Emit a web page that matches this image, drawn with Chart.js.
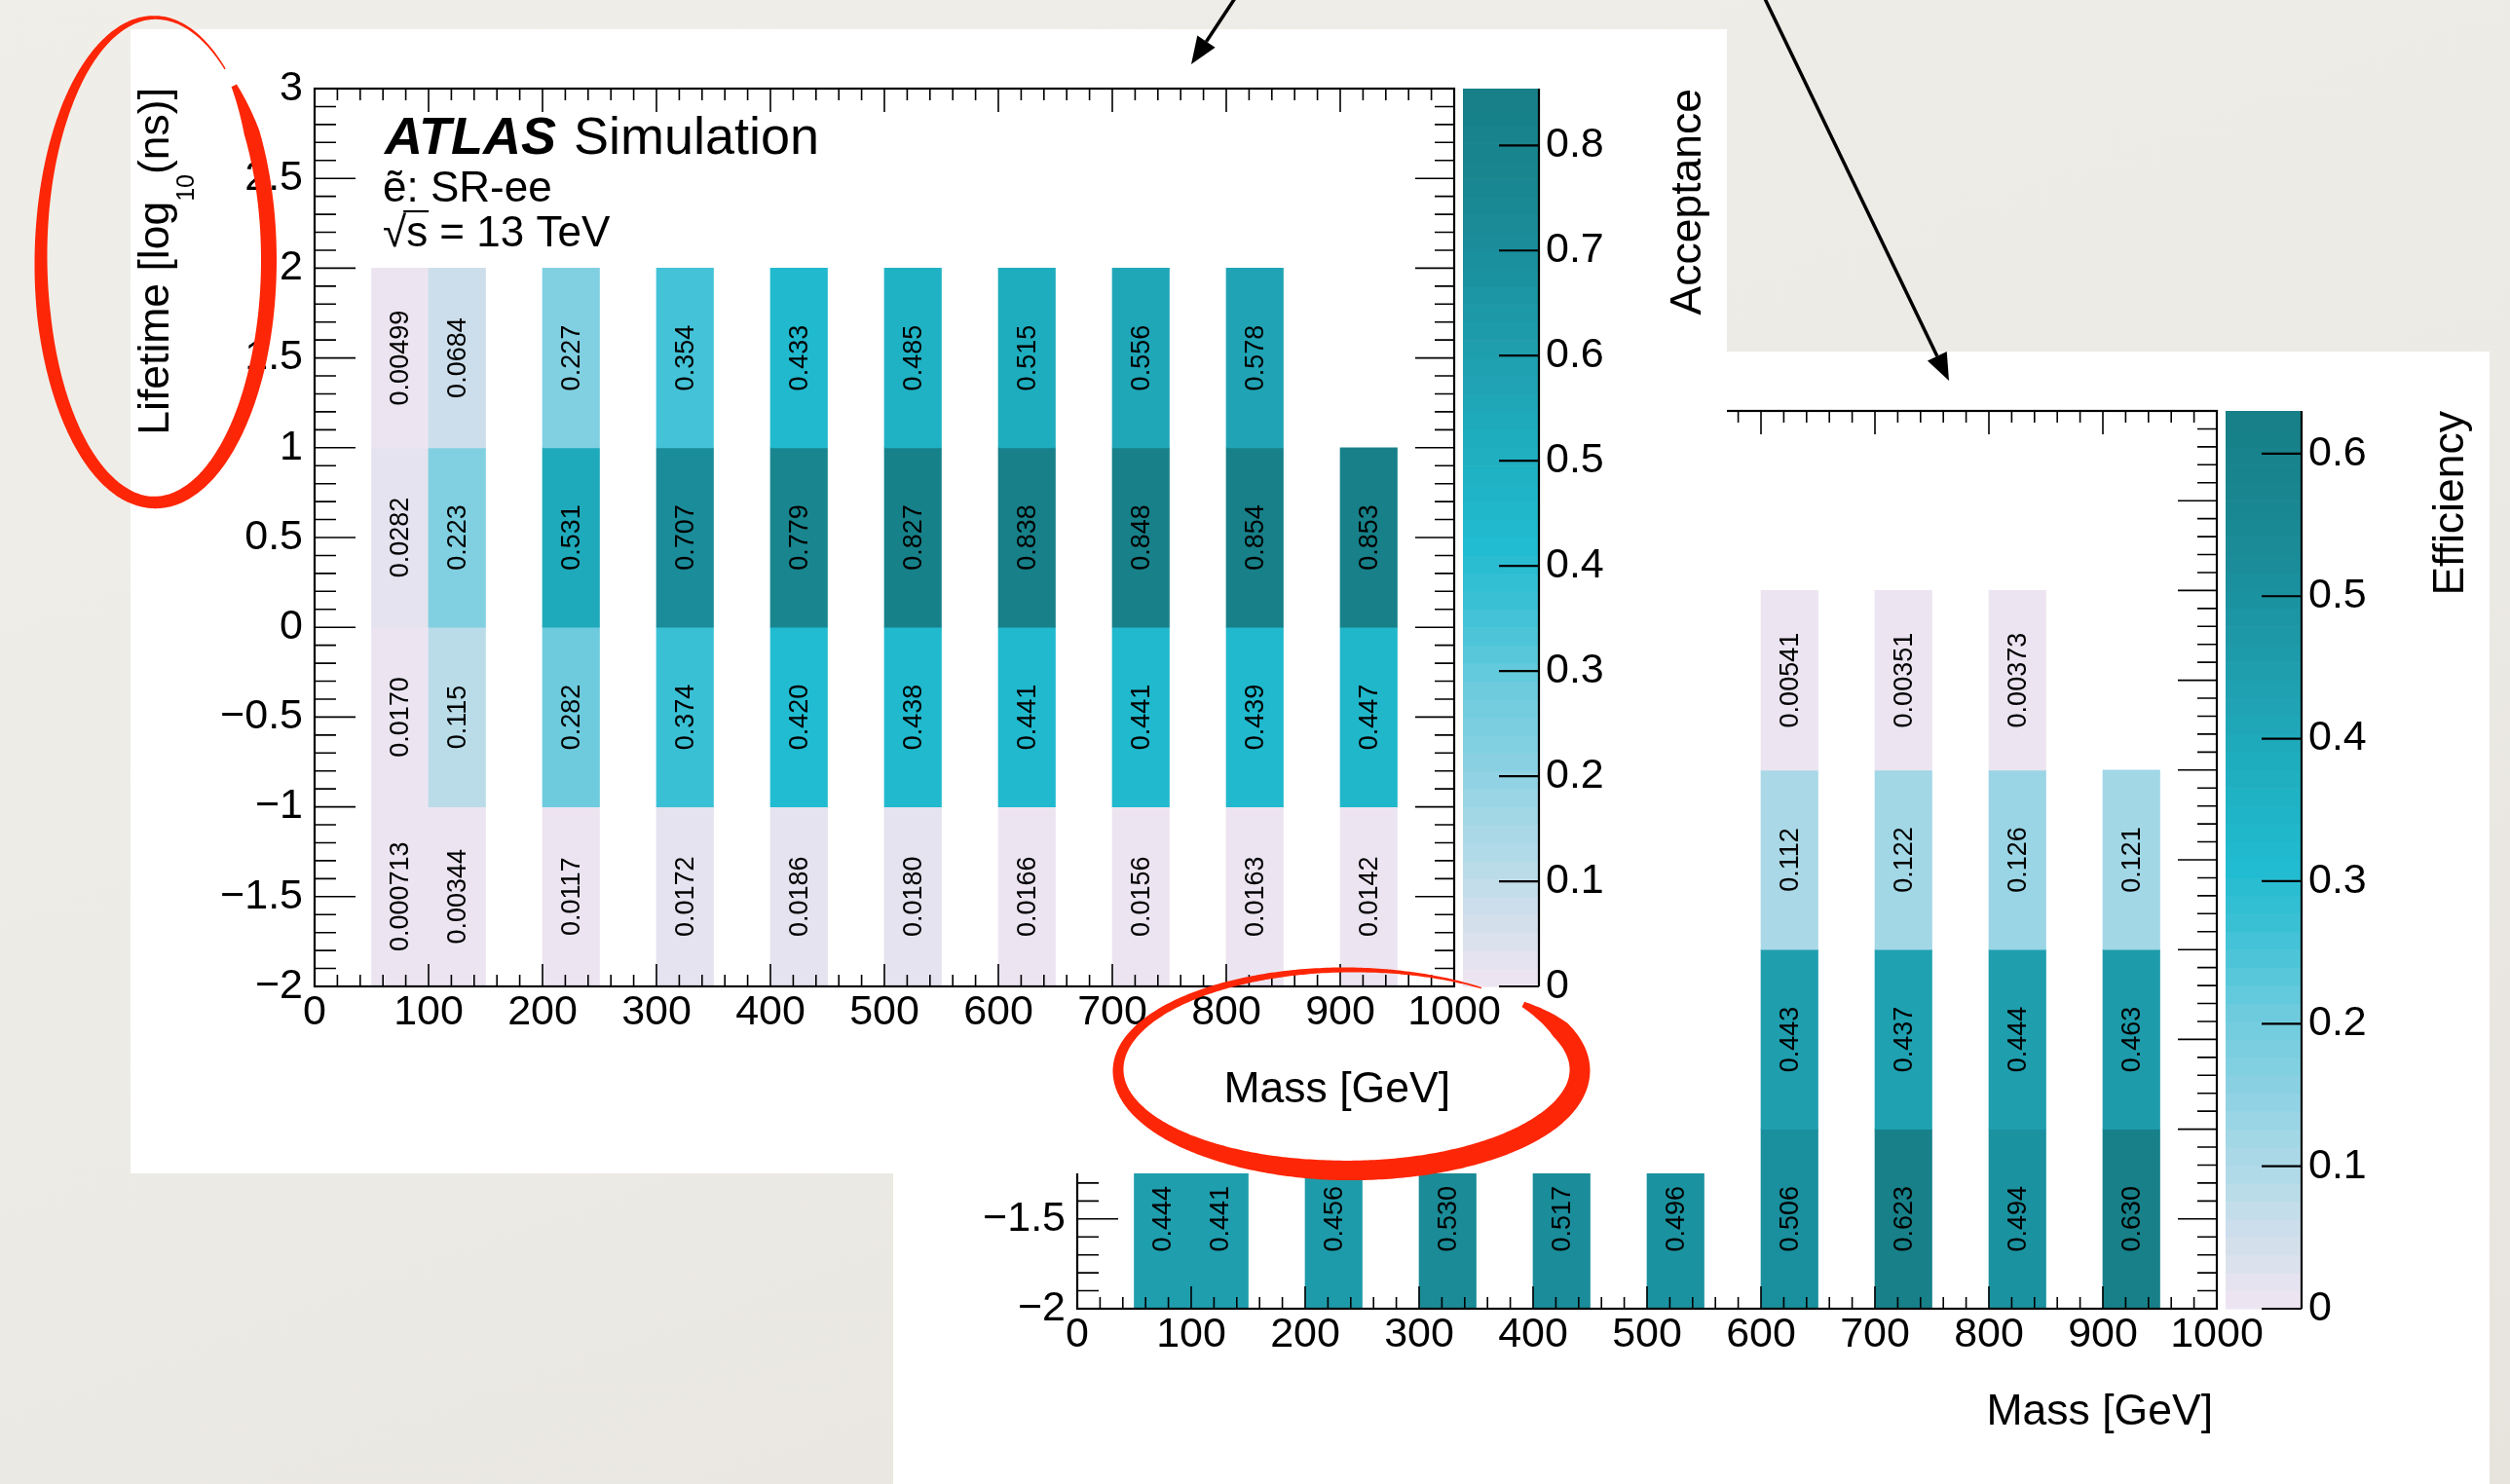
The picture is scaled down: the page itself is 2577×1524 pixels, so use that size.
<!DOCTYPE html>
<html>
<head>
<meta charset="utf-8">
<script src="https://cdn.jsdelivr.net/npm/chart.js@4.4.1/dist/chart.umd.min.js"></script>
<style>
  html, body { margin: 0; padding: 0; }
  body {
    width: 2577px; height: 1524px; overflow: hidden; position: relative;
    background: linear-gradient(160deg, #f0eee9 0%, #eceae4 55%, #e7e4de 100%);
  }
  canvas { position: absolute; display: block; }
  #eff { left: 917px; top: 361px; }
  #acc { left: 134px; top: 30px; }
  #marks { left: 0; top: 0; pointer-events: none; }
</style>
</head>
<body>
<canvas id="eff" width="1639" height="1163"></canvas>
<canvas id="acc" width="1639" height="1175"></canvas>
<canvas id="marks" width="2577" height="1524"></canvas>
<script>
// ---- binning ----
const massCentres  = [75, 125, 225, 325, 425, 525, 625, 725, 825, 925];   // GeV, 50 GeV wide bins
const lifetimeBins = [[-2, -1], [-1, 0], [0, 1], [1, 2]];                  // log10(tau / ns)

// ---- acceptance, SR-ee (one array per lifetime bin) ----
const accRowNeg2 = [0.000713, 0.00344, 0.0117, 0.0172, 0.0186, 0.0180, 0.0166, 0.0156, 0.0163, 0.0142];
const accRowNeg1 = [0.0170, 0.115, 0.282, 0.374, 0.420, 0.438, 0.441, 0.441, 0.439, 0.447];
const accRow0    = [0.0282, 0.223, 0.531, 0.707, 0.779, 0.827, 0.838, 0.848, 0.854, 0.853];
const accRow1    = [0.00499, 0.0684, 0.227, 0.354, 0.433, 0.485, 0.515, 0.556, 0.578, null];

// ---- efficiency, SR-ee ----
const effRowNeg2 = [0.444, 0.441, 0.456, 0.530, 0.517, 0.496, 0.506, 0.623, 0.494, 0.630];
const effRowNeg1 = [null, null, null, null, null, null, 0.443, 0.437, 0.444, 0.463];
const effRow0    = [null, null, null, null, null, null, 0.112, 0.122, 0.126, 0.121];
const effRow1    = [null, null, null, null, null, null, 0.00541, 0.00351, 0.00373, null];

// ---- tick labels ----
const massTicks     = [0, 100, 200, 300, 400, 500, 600, 700, 800, 900, 1000];
const lifetimeTicks = [-2, -1.5, -1, -0.5, 0, 0.5, 1, 1.5, 2, 2.5, 3];
const accTicks      = [0, 0.1, 0.2, 0.3, 0.4, 0.5, 0.6, 0.7, 0.8];
const effTicks      = [0, 0.1, 0.2, 0.3, 0.4, 0.5, 0.6];

// ---- colour palette (lavender -> cyan -> dark teal) ----
const paletteStops = [
  [0.000, 236, 229, 241], [0.033, 223, 225, 238], [0.080, 205, 222, 235],
  [0.135, 180, 219, 233], [0.190, 160, 214, 230], [0.261, 130, 208, 225],
  [0.330, 108, 203, 221], [0.415,  64, 193, 214], [0.490,  33, 188, 209],
  [0.568,  31, 178, 196], [0.620,  30, 172, 189], [0.677,  32, 164, 180],
  [0.828,  26, 141, 155], [0.912,  25, 134, 143], [1.000,  23, 128, 137]
];
const N_LEVELS = 50;

function paletteAt(t) {
  t = Math.max(0, Math.min(1, t));
  for (let i = 1; i < paletteStops.length; i++) {
    const a = paletteStops[i - 1], b = paletteStops[i];
    if (t <= b[0]) {
      const f = (t - a[0]) / (b[0] - a[0]);
      const c = [1, 2, 3].map(k => Math.round(a[k] + (b[k] - a[k]) * f));
      return `rgb(${c[0]},${c[1]},${c[2]})`;
    }
  }
  const l = paletteStops[paletteStops.length - 1];
  return `rgb(${l[1]},${l[2]},${l[3]})`;
}
function levelColour(v, zMax) {
  const k = Math.min(N_LEVELS - 1, Math.floor(v / zMax * N_LEVELS));
  return paletteAt(k / (N_LEVELS - 1));
}

function buildCells(rows) {
  const out = [];
  rows.forEach((row, r) => row.forEach((v, i) => {
    if (v !== null) out.push({ x: massCentres[i], y: lifetimeBins[r], v: v });
  }));
  return out;
}
function maxOf(rows) {
  return Math.max(...rows.flat().filter(v => v !== null));
}

const FAMILY = '"Liberation Sans", Arial, Helvetica, sans-serif';
Chart.defaults.font.family = FAMILY;
Chart.defaults.color = '#000';

const tickText = v => String(v).replace('-', '\u2212');

// frame, inward ticks, cell values, palette axis and titles
const rootFrame = {
  id: 'rootFrame',
  beforeDraw(chart) {
    const ctx = chart.ctx;
    ctx.save();
    ctx.fillStyle = '#ffffff';
    ctx.fillRect(0, 0, chart.width, chart.height);
    ctx.restore();
  },
  afterDatasetsDraw(chart, args, opts) {
    const { ctx, chartArea: ca } = chart;
    const xs = chart.scales.x, ys = chart.scales.y, zs = chart.scales.z;
    const cells = chart.data.datasets[0].data;
    const meta = chart.getDatasetMeta(0);

    // values printed in each cell
    ctx.save();
    ctx.fillStyle = '#000';
    ctx.font = '27px ' + FAMILY;
    ctx.textAlign = 'center';
    ctx.textBaseline = 'middle';
    meta.data.forEach((el, i) => {
      const cx = el.x, cy = (el.y + el.base) / 2;
      ctx.save();
      ctx.translate(cx, cy);
      ctx.rotate(-Math.PI / 2);
      ctx.fillText(cells[i].v.toPrecision(3), 0, 1);
      ctx.restore();
    });
    ctx.restore();

    // ticks on all four sides
    ctx.save();
    ctx.strokeStyle = '#000';
    ctx.lineWidth = 1.6;
    ctx.beginPath();
    for (let k = 0; k <= 50; k++) {
      const px = xs.getPixelForValue(k * 20);
      const major = k % 5 === 0;
      ctx.moveTo(px, ca.bottom); ctx.lineTo(px, ca.bottom - (major ? 23 : 12));
      ctx.moveTo(px, ca.top);    ctx.lineTo(px, ca.top + (major ? 24 : 12));
    }
    for (let k = 0; k <= 50; k++) {
      const py = ys.getPixelForValue(-2 + k / 10);
      const major = k % 5 === 0;
      ctx.moveTo(ca.left, py);  ctx.lineTo(ca.left + (major ? 42 : 22), py);
      ctx.moveTo(ca.right, py); ctx.lineTo(ca.right - (major ? 40 : 20), py);
    }
    ctx.stroke();
    ctx.lineWidth = 2.2;
    ctx.strokeRect(ca.left, ca.top, ca.right - ca.left, ca.bottom - ca.top);

    // palette axis
    const cbL = ca.right + 9, cbR = ca.right + 87;
    for (let k = 0; k < N_LEVELS; k++) {
      const y0 = zs.getPixelForValue(k * opts.zMax / N_LEVELS);
      const y1 = zs.getPixelForValue((k + 1) * opts.zMax / N_LEVELS);
      ctx.fillStyle = paletteAt(k / (N_LEVELS - 1));
      ctx.fillRect(cbL, y1, cbR - cbL, y0 - y1 + 0.6);
    }
    ctx.lineWidth = 2.2;
    ctx.beginPath();
    ctx.moveTo(cbR, ca.top); ctx.lineTo(cbR, ca.bottom);
    opts.zTicks.forEach(t => {
      const py = zs.getPixelForValue(t);
      ctx.moveTo(cbR - 41, py); ctx.lineTo(cbR, py);
    });
    ctx.stroke();

    // axis titles
    ctx.fillStyle = '#000';
    ctx.textBaseline = 'alphabetic';
    const big = '44.5px ' + FAMILY, sub = '25px ' + FAMILY;
    ctx.font = big;
    ctx.textAlign = 'right';
    ctx.fillText('Mass [GeV]', ca.right - 4, ca.bottom + 119);

    ctx.save();
    ctx.translate(ca.right + 253, ca.top);
    ctx.rotate(-Math.PI / 2);
    ctx.textAlign = 'right';
    ctx.fillText(opts.zTitle, 0, 0);
    ctx.restore();

    ctx.save();
    ctx.translate(ca.left - 150, ca.top - 1);
    ctx.rotate(-Math.PI / 2);
    ctx.textAlign = 'left';
    ctx.font = big;
    const p1 = 'Lifetime [log', p3 = '(ns)]';
    const w1 = ctx.measureText(p1).width, w3 = ctx.measureText(p3).width;
    ctx.font = sub;
    const w2 = ctx.measureText('10').width;
    const x0 = -(w1 + w2 + w3);
    ctx.font = big; ctx.fillText(p1, x0, 0);
    ctx.font = sub; ctx.fillText('10', x0 + w1, 26);
    ctx.font = big; ctx.fillText(p3, x0 + w1 + w2, 0);
    ctx.restore();

    // experiment label
    if (opts.label) {
      const lx = ca.left + 72;
      const txt = '44px ' + FAMILY;
      ctx.textAlign = 'left';
      ctx.font = 'italic bold 54px ' + FAMILY;
      ctx.fillText('ATLAS', lx, ca.top + 67);
      const wA = ctx.measureText('ATLAS').width;
      ctx.font = '54px ' + FAMILY;
      ctx.fillText('Simulation', lx + wA + 18, ca.top + 67);
      ctx.font = txt;
      ctx.fillText('\u1EBD: SR-ee', lx - 2, ca.top + 116);
      ctx.fillText('\u221As = 13 TeV', lx - 2, ca.top + 162);
      const wR = ctx.measureText('\u221A').width, wS = ctx.measureText('s').width;
      ctx.lineWidth = 2.2;
      ctx.beginPath();
      ctx.moveTo(lx - 2 + wR - 3, ca.top + 162 - 36);
      ctx.lineTo(lx - 2 + wR + wS + 1, ca.top + 162 - 36);
      ctx.stroke();
    }
    ctx.restore();
  }
};

// fixed axis boxes; labels must not add extra room to the plot edges
function fixBox(size, horizontal) {
  return s => {
    if (horizontal) s.height = size; else s.width = size;
    s.paddingTop = 0; s.paddingBottom = 0; s.paddingLeft = 0; s.paddingRight = 0;
  };
}

function makePanel(canvasId, rows, zTicks, zTitle, label) {
  const canvas = document.getElementById(canvasId);
  const zMax = maxOf(rows);
  const bottomSpace = canvas.height - 983;
  const tickFont = { size: 43, family: FAMILY };
  return new Chart(canvas, {
    type: 'bar',
    data: {
      datasets: [{
        data: buildCells(rows),
        backgroundColor: c => (c.raw ? levelColour(c.raw.v, zMax) : 'transparent'),
        borderWidth: 0,
        barPercentage: 1,
        categoryPercentage: 1
      }]
    },
    options: {
      responsive: false,
      animation: false,
      devicePixelRatio: 1,
      events: [],
      layout: { padding: { top: 61, left: 0, right: 0, bottom: 0 } },
      plugins: {
        legend: { display: false },
        tooltip: { enabled: false },
        rootFrame: { zMax: zMax, zTicks: zTicks, zTitle: zTitle, label: label }
      },
      scales: {
        x: {
          type: 'linear', min: 0, max: 1000, offset: false,
          grid: { display: false, offset: false, drawTicks: false },
          border: { display: false },
          ticks: { font: tickFont, color: '#000', padding: 1, autoSkip: false, maxRotation: 0, callback: tickText },
          afterBuildTicks: s => { s.ticks = massTicks.map(v => ({ value: v })); },
          afterFit: fixBox(bottomSpace, true)
        },
        y: {
          type: 'linear', min: -2, max: 3,
          grid: { display: false, drawTicks: false },
          border: { display: false },
          ticks: { font: tickFont, color: '#000', padding: 12, autoSkip: false, callback: tickText },
          afterBuildTicks: s => { s.ticks = lifetimeTicks.map(v => ({ value: v })); },
          afterFit: fixBox(189, false)
        },
        z: {
          type: 'linear', axis: 'y', position: 'right', min: 0, max: zMax,
          grid: { display: false, drawTicks: false },
          border: { display: false },
          ticks: { font: tickFont, color: '#000', padding: 94, autoSkip: false, callback: tickText },
          afterBuildTicks: s => { s.ticks = zTicks.map(v => ({ value: v })); },
          afterFit: fixBox(280, false)
        }
      }
    },
    plugins: [rootFrame]
  });
}

makePanel('eff', [effRowNeg2, effRowNeg1, effRow0, effRow1], effTicks, 'Efficiency', false);
makePanel('acc', [accRowNeg2, accRowNeg1, accRow0, accRow1], accTicks, 'Acceptance', true);

// ---- hand-drawn highlight rings and pointer arrows ----
(function drawMarks() {
  const c = document.getElementById('marks').getContext('2d');

  function interp(prof, p) {
    for (let i = 1; i < prof.length; i++) {
      if (p <= prof[i][0]) {
        const a = prof[i - 1], b = prof[i];
        return a[1] + (b[1] - a[1]) * (p - a[0]) / (b[0] - a[0]);
      }
    }
    return prof[prof.length - 1][1];
  }
  function ring(cx, cy, rx, ry, a0, a1, prof) {
    const n = 400, outer = [], inner = [];
    for (let i = 0; i <= n; i++) {
      const p = i / n, a = a0 + (a1 - a0) * p, w = interp(prof, p);
      const px = cx + rx * Math.cos(a), py = cy + ry * Math.sin(a);
      let nx = Math.cos(a) / rx, ny = Math.sin(a) / ry;
      const l = Math.hypot(nx, ny); nx /= l; ny /= l;
      outer.push([px + nx * w / 2, py + ny * w / 2]);
      inner.push([px - nx * w / 2, py - ny * w / 2]);
    }
    c.beginPath();
    outer.forEach((q, i) => (i ? c.lineTo(q[0], q[1]) : c.moveTo(q[0], q[1])));
    inner.reverse().forEach(q => c.lineTo(q[0], q[1]));
    c.closePath();
    c.fill();
  }
  c.fillStyle = 'rgb(253, 38, 6)';
  const deg = Math.PI / 180;
  ring(159, 267, 117, 249, -46 * deg, 308 * deg,
       [[0, 6], [0.04, 16], [0.2, 16], [0.4, 12], [0.6, 14], [0.75, 10], [0.88, 4], [1, 1.5]]);
  ring(1385, 1099, 237, 103, -41 * deg, 305 * deg,
       [[0, 6], [0.05, 20], [0.2, 22], [0.4, 20], [0.6, 12], [0.75, 8], [0.9, 5], [1, 1.5]]);

  function arrow(x0, y0, x1, y1) {
    const ang = Math.atan2(y1 - y0, x1 - x0), len = 28, half = 11;
    const bx = x1 - len * Math.cos(ang), by = y1 - len * Math.sin(ang);
    c.strokeStyle = '#000'; c.fillStyle = '#000'; c.lineWidth = 3.5;
    c.beginPath(); c.moveTo(x0, y0); c.lineTo(bx, by); c.stroke();
    c.beginPath();
    c.moveTo(x1, y1);
    c.lineTo(bx + half * Math.sin(ang), by - half * Math.cos(ang));
    c.lineTo(bx - half * Math.sin(ang), by + half * Math.cos(ang));
    c.closePath(); c.fill();
  }
  arrow(1280, -20, 1223, 66);
  arrow(1803, -20, 2001, 391);
})();
</script>
</body>
</html>
